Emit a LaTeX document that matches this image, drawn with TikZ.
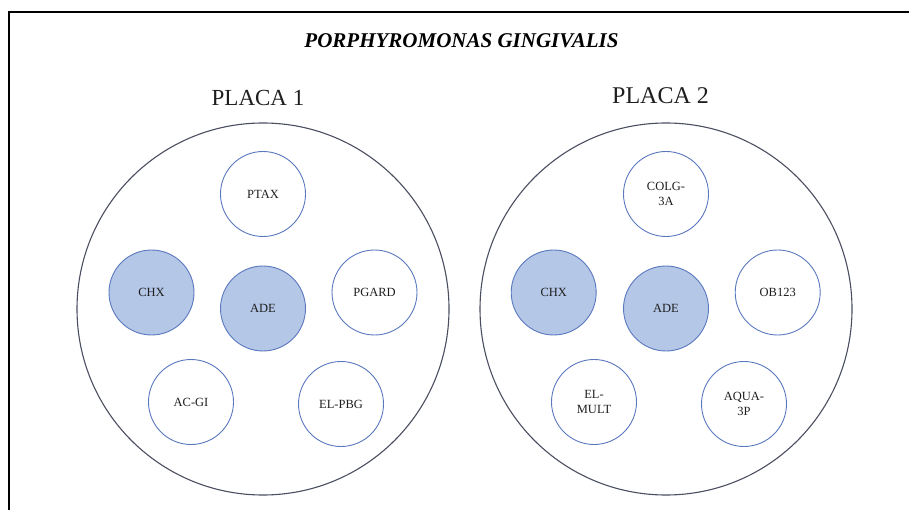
\documentclass[tikz,border=0pt]{standalone}
\usepackage{fontspec}
\setmainfont{Liberation Serif}
\definecolor{platecol}{HTML}{4A4E60}
\definecolor{wellcol}{HTML}{5A78BE}
\definecolor{fillcol}{HTML}{B4C7E7}
\definecolor{txtcol}{HTML}{1E1E1E}
\begin{document}
\begin{tikzpicture}[x=1pt,y=-1pt,
  plate/.style={circle, draw=platecol, line width=1.1pt, minimum size=372pt, inner sep=0pt},
  well/.style={circle, draw=wellcol, line width=0.9pt, minimum size=85pt, inner sep=0pt,
    font=\fontsize{12.5}{15.5}\selectfont, align=center, text=txtcol},
  treated/.style={well, fill=fillcol},
  heading/.style={font=\fontsize{24}{28}\selectfont, text=txtcol, inner sep=0pt},
  titletext/.style={font=\fontsize{21}{25}\selectfont\bfseries\itshape, text=black, inner sep=0pt},
  frameline/.style={line width=2pt, draw=black}]
\useasboundingbox (0,0) rectangle (909,510);
% frame (left and top edges visible)
\coordinate (fbl) at (8.5,510);
\coordinate (ftl) at (8.5,12.5);
\coordinate (ftr) at (909,12.5);
\draw[frameline] (fbl) -- (ftl) -- (ftr);
% title
\node[titletext] (title) at (461.5,40.5) {PORPHYROMONAS GINGIVALIS};
% headings
\node[heading, font=\fontsize{23}{27}\selectfont] (h1) at (258,98.5) {PLACA 1};
\node[heading] (h2) at (660.5,95.5) {PLACA 2};
% plate 1
\node[plate] (p1) at (263,309) {};
\node[well] (ptax) at (263,194) {PTAX};
\node[treated] (chx1) at (151.5,292.5) {CHX};
\node[treated] (ade1) at (263,308.5) {ADE};
\node[well] (pgard) at (374.5,292.5) {PGARD};
\node[well] (acgi) at (191,402) {AC-GI};
\node[well] (elpbg) at (341,404) {EL-PBG};
% plate 2
\node[plate] (p2) at (666,309) {};
\node[well] (colg) at (666,194) {COLG-\\3A};
\node[treated] (chx2) at (553.7,292.5) {CHX};
\node[treated] (ade2) at (666,308.5) {ADE};
\node[well] (ob) at (777.7,292.5) {OB123};
\node[well] (elmult) at (594,402) {EL-\\MULT};
\node[well] (aqua) at (744,404) {AQUA-\\3P};
\end{tikzpicture}
\end{document}
